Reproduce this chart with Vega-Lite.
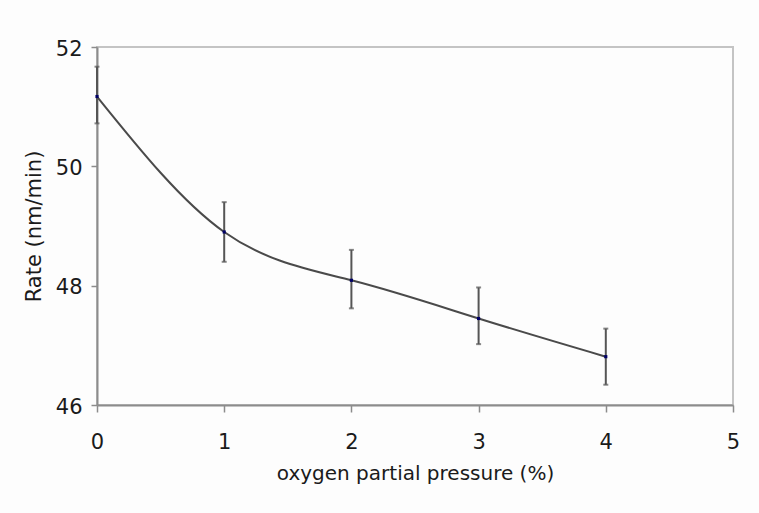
{
  "$schema": "https://vega.github.io/schema/vega-lite/v6.json",
  "autosize": "none",
  "width": 636,
  "height": 358,
  "padding": {"left": 97, "top": 47, "right": 26, "bottom": 108},
  "background": "#fdfdfd",
  "config": {
    "view": {"stroke": "#c4c4c4", "strokeWidth": 2},
    "font": "DejaVu Sans",
    "axis": {
      "grid": false,
      "domainColor": "#8c8c8c",
      "domainWidth": 2,
      "tickColor": "#8c8c8c",
      "tickWidth": 1.5,
      "labelColor": "#1a1a1a",
      "titleColor": "#1a1a1a",
      "labelFont": "DejaVu Sans",
      "titleFont": "DejaVu Sans",
      "titleFontWeight": "normal",
      "labelFontSize": 21,
      "titleFontSize": 20
    }
  },
  "data": {
    "values": [
      {"pressure": 0, "rate": 51.17, "lo": 50.72, "hi": 51.67},
      {"pressure": 1, "rate": 48.90, "lo": 48.40, "hi": 49.40},
      {"pressure": 2, "rate": 48.09, "lo": 47.62, "hi": 48.60},
      {"pressure": 3, "rate": 47.45, "lo": 47.02, "hi": 47.97},
      {"pressure": 4, "rate": 46.81, "lo": 46.34, "hi": 47.28}
    ]
  },
  "encoding": {
    "x": {
      "field": "pressure",
      "type": "quantitative",
      "scale": {"domain": [0, 5], "nice": false, "zero": false},
      "axis": {
        "title": "oxygen partial pressure (%)",
        "values": [0, 1, 2, 3, 4, 5],
        "format": "d",
        "tickSize": 7,
        "labelPadding": 19,
        "titleBaseline": "alphabetic",
        "titleY": 74,
        "labelFlush": false
      }
    },
    "y": {
      "field": "rate",
      "type": "quantitative",
      "scale": {"domain": [46, 52], "nice": false, "zero": false},
      "axis": {
        "title": "Rate (nm/min)",
        "values": [46, 48, 50, 52],
        "format": "d",
        "tickSize": 6,
        "labelPadding": 9,
        "labelOffset": 2,
        "titleFontSize": 21,
        "titleBaseline": "alphabetic",
        "titleX": -57,
        "labelFlush": false
      }
    }
  },
  "layer": [
    {
      "mark": {"type": "line", "interpolate": "natural", "color": "#4a4a4a", "strokeWidth": 2}
    },
    {
      "mark": {"type": "rule", "color": "#555555", "strokeWidth": 2},
      "encoding": {"y": {"field": "lo", "type": "quantitative"}, "y2": {"field": "hi"}}
    },
    {
      "mark": {"type": "tick", "color": "#555555", "size": 5, "thickness": 2, "orient": "horizontal"},
      "encoding": {"y": {"field": "lo", "type": "quantitative"}}
    },
    {
      "mark": {"type": "tick", "color": "#555555", "size": 5, "thickness": 2, "orient": "horizontal"},
      "encoding": {"y": {"field": "hi", "type": "quantitative"}}
    },
    {
      "mark": {"type": "point", "shape": "square", "filled": true, "size": 10, "color": "#000066", "opacity": 1}
    }
  ]
}
